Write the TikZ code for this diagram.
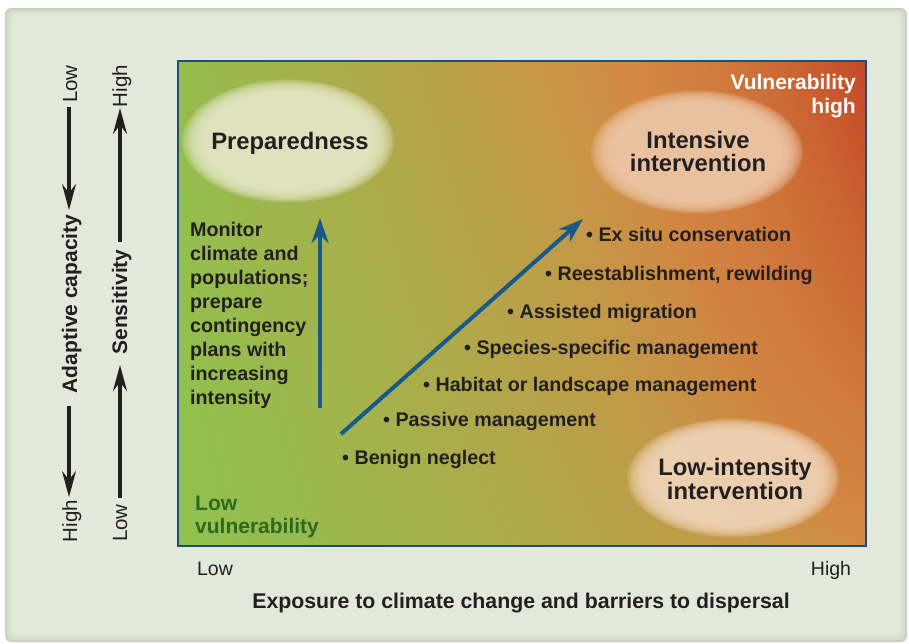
\documentclass[tikz,border=0pt]{standalone}
\usepackage{fontspec}
\setmainfont{Liberation Sans}
\usetikzlibrary{arrows.meta}
\definecolor{txt}{HTML}{231F20}
\definecolor{arrowblue}{HTML}{17598A}
\definecolor{frameblue}{HTML}{1D4F78}
\definecolor{panel}{HTML}{E3E9DA}
\definecolor{panelA}{HTML}{CAD2BE}
\definecolor{panelB}{HTML}{D5DCCA}
\definecolor{panelC}{HTML}{DDE3D3}
\definecolor{lowgreen}{HTML}{2B6A1F}
\definecolor{creamA}{HTML}{E6E8C8}
\definecolor{creamB}{HTML}{EEC8A8}
\definecolor{creamC}{HTML}{F0D5B8}

\pgfdeclarefunctionalshading{vulnshade}{\pgfpoint{-50bp}{-50bp}}{\pgfpoint{50bp}{50bp}}{}{
25 add 50 div exch 25 add 50 div exch
2 copy
dup 0.5 mul 0.75 add
2 index 0.25 mul add
2 index mul
exch 0.1 mul add
exch pop
dup 1 gt {pop 1} if
dup 0 lt {pop 0} if
3 1 roll
exch 0.55 sub 0.45 div
dup 0 lt {pop 0} if
dup 1 gt {pop 1} if
dup mul
exch
dup 0 lt {pop 0} if
dup 1 gt {pop 1} if
mul
1 index 0.27 mul 0.56 add 0.77 1 index sub 2 index mul add 3 1 roll
1 index -0.21 mul 0.76 add 0.28 1 index sub 2 index mul add 3 1 roll
1 index -0.04 mul 0.31 add 0.15 1 index sub 2 index mul add
3 1 roll pop pop
}

\tikzset{
  listitem/.style={anchor=base west, inner sep=0pt, text=txt, font=\bfseries\fontsize{19.7}{24}\selectfont},
  cornerlabel/.style={anchor=base west, inner sep=0pt, font=\bfseries\fontsize{21}{24}\selectfont},
  zonelabel/.style={anchor=base, inner sep=0pt, text=txt, font=\bfseries\fontsize{23.8}{24}\selectfont},
  axistitle/.style={anchor=base, inner sep=0pt, text=txt, font=\bfseries\fontsize{21.3}{24}\selectfont},
  sidebold/.style={anchor=base, inner sep=0pt, text=txt, rotate=90, font=\bfseries\fontsize{21}{24}\selectfont},
  sidereg/.style={anchor=base, inner sep=0pt, text=txt, rotate=90, font=\fontsize{20.5}{24}\selectfont},
  axisreg/.style={anchor=base, inner sep=0pt, text=txt, font=\fontsize{19.5}{24}\selectfont},
  blackarrow/.style={line width=3.5pt, draw=txt, -{Stealth[length=26pt,width=14pt,inset=9pt]}},
  bluearrow/.style={line width=4pt, draw=arrowblue, -{Stealth[length=25pt,width=17pt,inset=8pt]}},
}

\begin{document}
\begin{tikzpicture}[x=1pt,y=-1pt]
\useasboundingbox (0,0) rectangle (909,643);
\fill[white] (0,0) rectangle (909,643);
% panel with soft edge
\fill[panelA, rounded corners=6pt] (5,8) rectangle (907,642);
\fill[panelB, rounded corners=6pt] (7,10) rectangle (905,640);
\fill[panelC, rounded corners=6pt] (9,12) rectangle (903,638);
\fill[panel, rounded corners=6pt] (12,15) rectangle (900,635);

% main field
\shade[shading=vulnshade] (178,61) rectangle (866,546);

% glowing zones
\foreach \k in {0,...,11}{
  \fill[creamA, fill opacity=0.2] (288,141) ellipse ({100*(1.06-0.02*\k)} and {58*(1.06-0.02*\k)});
  \fill[creamB, fill opacity=0.2] (697,152) ellipse ({100*(1.06-0.02*\k)} and {58*(1.06-0.02*\k)});
  \fill[creamC, fill opacity=0.2] (733,478) ellipse ({100*(1.06-0.02*\k)} and {56*(1.06-0.02*\k)});
}
\draw[frameblue, line width=1.6pt] (178,61) rectangle (866,546);

% zone labels
\node[zonelabel] (prep) at (290,149) {Preparedness};
\node[zonelabel] (int1) at (698,148.5) {Intensive};
\node[zonelabel] (int2) at (698,171.5) {intervention};
\node[zonelabel] (low1) at (735,475) {Low-intensity};
\node[zonelabel] (low2) at (735,499) {intervention};

\node[cornerlabel, anchor=base east, text=white] (vh1) at (856,89) {Vulnerability};
\node[cornerlabel, anchor=base east, text=white] (vh2) at (856,113) {high};
\node[cornerlabel, text=lowgreen] (lv1) at (195,510) {Low};
\node[cornerlabel, text=lowgreen] (lv2) at (195,533) {vulnerability};

% monitor block
\node[listitem, anchor=north west, align=left] (mon) at (190,222.5)
  {Monitor\\climate and\\populations;\\prepare\\contingency\\plans with\\increasing\\intensity};

% list of actions
\node[listitem] (l7) at (586,241) {• Ex situ conservation};
\node[listitem] (l6) at (545,280) {• Reestablishment, rewilding};
\node[listitem] (l5) at (507,318) {• Assisted migration};
\node[listitem] (l4) at (464,354) {• Species-specific management};
\node[listitem] (l3) at (423,391) {• Habitat or landscape management};
\node[listitem] (l2) at (383,426) {• Passive management};
\node[listitem] (l1) at (342,464) {• Benign neglect};

% blue arrows
\coordinate (dS) at (341,434);
\coordinate (dE) at (583,219);
\coordinate (vS) at (320,408);
\coordinate (vE) at (320,218);
\draw[bluearrow] (dS) -- (dE);
\draw[bluearrow] (vS) -- (vE);

% axis labels
\node[axisreg] (xlow) at (215,575) {Low};
\node[axisreg] (xhigh) at (831,575) {High};
\node[axistitle] (xlab) at (521,608.5) {Exposure to climate change and barriers to dispersal};

% left columns
\node[sidereg] (acLow) at (77,84) {Low};
\node[sidebold] (ac) at (77,304) {Adaptive capacity};
\node[sidereg] (acHigh) at (77,521) {High};
\node[sidereg] (seHigh) at (127,86) {High};
\node[sidebold] (se) at (127,302) {Sensitivity};
\node[sidereg] (seLow) at (127,523) {Low};

\coordinate (a1s) at (69,107);
\coordinate (a1e) at (69,210);
\coordinate (a2s) at (69,406);
\coordinate (a2e) at (69,497);
\coordinate (b1s) at (120,242);
\coordinate (b1e) at (120,108);
\coordinate (b2s) at (120,498);
\coordinate (b2e) at (120,365);
\draw[blackarrow] (a1s) -- (a1e);
\draw[blackarrow] (a2s) -- (a2e);
\draw[blackarrow] (b1s) -- (b1e);
\draw[blackarrow] (b2s) -- (b2e);
\end{tikzpicture}
\end{document}
